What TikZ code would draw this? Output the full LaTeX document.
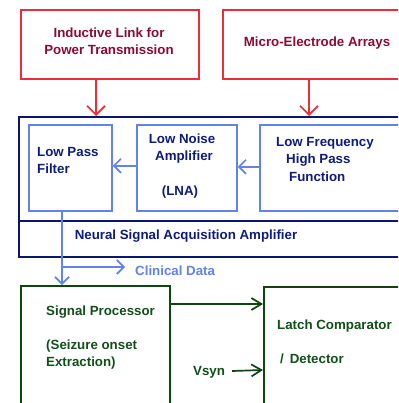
\documentclass[tikz,border=0pt]{standalone}
\usepackage{fontspec}
\setmainfont{Liberation Sans}
\usetikzlibrary{arrows.meta}
\definecolor{rline}{HTML}{EC2C36}
\definecolor{rtext}{HTML}{8A0C32}
\definecolor{bline}{HTML}{6283EC}
\definecolor{btext}{HTML}{0E1C7C}
\definecolor{navy}{HTML}{0B1672}
\definecolor{gline}{HTML}{0D470F}
\definecolor{gtext}{HTML}{11501A}
\tikzset{
  txt/.style={inner sep=0pt, font=\fontsize{13.3}{17}\selectfont\bfseries, align=left},
  redbox/.style={draw=rline, line width=1.7pt, anchor=north west, inner sep=0pt},
  bluebox/.style={draw=bline, line width=1.7pt, anchor=north west, inner sep=0pt},
  navybox/.style={draw=navy, line width=1.9pt, anchor=north west, inner sep=0pt},
  greenbox/.style={draw=gline, line width=1.9pt, anchor=north west, inner sep=0pt},
  redarrow/.style={draw=rline, line width=1.7pt, -{Straight Barb[length=9pt,width=18pt,line width=1.7pt]}},
  bluearrow/.style={draw=bline, line width=1.7pt, -{Straight Barb[length=7pt,width=14pt,line width=1.7pt]}},
  greenarrow/.style={draw=gline, line width=1.7pt, -{Straight Barb[length=10pt,width=12pt,line width=1.7pt]}},
}
\begin{document}
\begin{tikzpicture}[x=1pt,y=-1pt]
\useasboundingbox (0,0) rectangle (398,403);
\clip (0,0) rectangle (398,403);
\fill[white] (0,0) rectangle (398,403);
% red boxes
\node[redbox, minimum width=178pt, minimum height=69pt] (ind) at (20,9) {};
\node[redbox, minimum width=200pt, minimum height=69pt] (mea) at (222,9) {};
\node[txt, text=rtext, align=center] (indt) at (109,41.5) {Inductive Link for\\Power Transmission};
\node[txt, text=rtext] (meat) at (317,43) {Micro-Electrode Arrays};
% outer navy box
\node[navybox, minimum width=400pt, minimum height=140pt] (acq) at (18,116) {};
\coordinate (divl) at (18,221);
\draw[navy, line width=1.9pt] (divl) -- (divl -| 420,0);
\node[txt, text=btext] (acqt) at (186,236) {Neural Signal Acquisition Amplifier};
% inner blue boxes
\node[bluebox, minimum width=83pt, minimum height=86pt] (lpf) at (28,124) {};
\node[bluebox, minimum width=100pt, minimum height=86pt] (lna) at (136,124) {};
\node[bluebox, minimum width=160pt, minimum height=86pt] (hpf) at (259,124) {};
\node[txt, text=btext, anchor=west] (lpft1) at (37,152) {Low Pass};
\node[txt, text=btext, anchor=west] (lpft2) at (37,169) {Filter};
\node[txt, text=btext] (lnat1) at (182,139) {Low Noise};
\node[txt, text=btext] (lnat2) at (184,157) {Amplifier};
\node[txt, text=btext] (lnat3) at (180,192) {(LNA)};
\node[txt, text=btext, anchor=west] (hpft1) at (276,143) {Low Frequency};
\node[txt, text=btext, anchor=west] (hpft2) at (286,160) {High Pass};
\node[txt, text=btext, anchor=west] (hpft3) at (289,177) {Function};
% green boxes
\node[greenbox, minimum width=149pt, minimum height=140pt] (sp) at (20,285) {};
\node[greenbox, minimum width=160pt, minimum height=140pt] (latch) at (263,286) {};
\node[txt, text=gtext, anchor=west] (spt1) at (46,312) {Signal Processor};
\node[txt, text=gtext, anchor=west] (spt2) at (46,346) {(Seizure onset};
\node[txt, text=gtext, anchor=west] (spt3) at (46,363) {Extraction)};
\node[txt, text=gtext, anchor=west] (lt1) at (277,326) {Latch Comparator};
\node[txt, text=gtext, anchor=west] (lt2) at (280,359) {/\,\ Detector};
\node[txt, text=gtext, anchor=west] (vsyn) at (193,372) {Vsyn};
\node[txt, text=bline, anchor=west] (clin) at (135,270.5) {Clinical Data};
% red arrows
\path (ind.south west) ++(76,0) coordinate (r1);
\path (mea.south west) ++(87,0) coordinate (r2);
\draw[redarrow] (r1) -- (r1 |- acq.north);
\draw[redarrow] (r2) -- (r2 |- acq.north);
% blue arrows
\draw[bluearrow] ([yshift=2pt]lna.west) -- ([yshift=2pt]lpf.east);
\draw[bluearrow] ([yshift=1pt]hpf.west) -- ([yshift=1pt]lna.east);
\path (lpf.south west) ++(34,0) coordinate (dn);
\draw[bluearrow] (dn) -- (dn |- sp.north);
\coordinate (br) at (dn |- 0,267);
\draw[bluearrow] (br) -- ([xshift=-10pt]clin.west |- br);
% green arrows
\coordinate (lv) at (0,304);
\draw[greenarrow] (sp.east |- lv) -- (latch.west |- lv);
\draw[greenarrow] ([xshift=7pt,yshift=1pt]vsyn.east) -- (latch.west |- 0,370);
\end{tikzpicture}
\end{document}
